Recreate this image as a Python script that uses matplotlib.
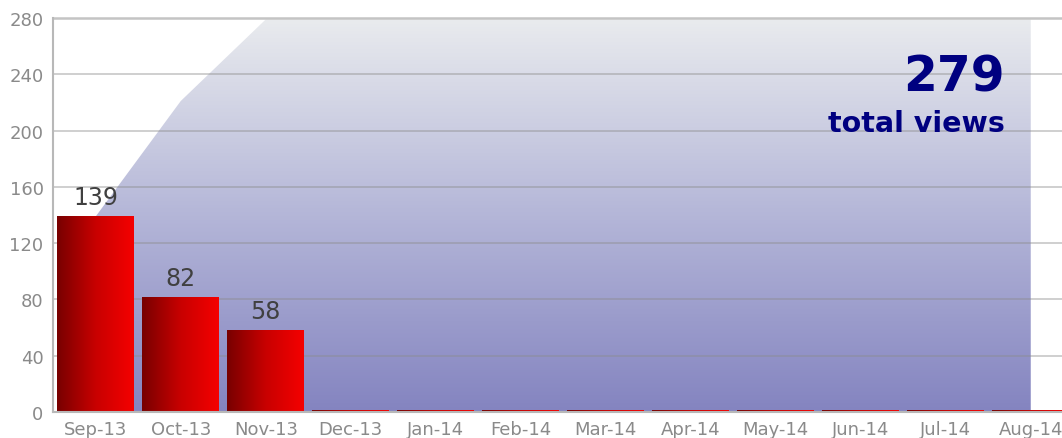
import numpy as np
import matplotlib
matplotlib.use("Agg")
import matplotlib.pyplot as plt
from matplotlib.colors import LinearSegmentedColormap
from matplotlib.patches import Rectangle, Polygon

months = ["Sep-13", "Oct-13", "Nov-13", "Dec-13", "Jan-14", "Feb-14",
          "Mar-14", "Apr-14", "May-14", "Jun-14", "Jul-14", "Aug-14"]
views = [139, 82, 58, 0, 0, 0, 0, 0, 0, 0, 0, 0]
yticks = [0, 40, 80, 120, 160, 200, 240, 280]
total_label = "total views"

cumulative = np.cumsum(views)
total = int(cumulative[-1])

W, H = 1062, 439
fig = plt.figure(figsize=(W / 100, H / 100), dpi=100)
ax = fig.add_axes([53.25 / W, 26 / H, 1020 / W, 394 / H])
ax.set_xlim(-0.5, len(months) - 0.5)
ax.set_ylim(0, 280)

# cumulative area with vertical gradient
x = np.arange(len(months))
verts = [(x[0], 0)] + list(zip(x, cumulative)) + [(x[-1], 0)]
poly = Polygon(verts, closed=True, facecolor="none", edgecolor="none")
ax.add_patch(poly)
area_cmap = LinearSegmentedColormap.from_list(
    "area", ["#8484c0", "#b4b6d8", "#e9ebee"])
grad = np.linspace(0, 1, 256).reshape(-1, 1)
im = ax.imshow(grad, extent=(x[0], x[-1], 0, 279), origin="lower",
               aspect="auto", cmap=area_cmap, zorder=1)
im.set_clip_path(poly)

# grid (semi-transparent so it darkens over the area)
for t in yticks[1:-1]:
    ax.axhline(t, color="#8c8c8c", alpha=0.45, lw=1.3, zorder=2)

# bars with horizontal gradient
bar_cmap = LinearSegmentedColormap.from_list("bar", ["#780000", "#c80000", "#f50000"])
hgrad = np.linspace(0, 1, 256).reshape(1, -1)
bw = 0.905
for i, v in enumerate(views):
    h = v if v > 0 else 1.3
    rect = Rectangle((i - bw / 2, 0), bw, h, facecolor="none", edgecolor="none")
    ax.add_patch(rect)
    bi = ax.imshow(hgrad, extent=(i - bw / 2, i + bw / 2, 0, h), origin="lower",
                   aspect="auto", cmap=bar_cmap, zorder=3)
    bi.set_clip_path(rect)
    if v > 0:
        ax.text(i, v + 5, str(v), ha="center", va="bottom", fontsize=17,
                color="#404040", zorder=4)

ax.set_xlim(-0.5, len(months) - 0.5)
ax.set_ylim(0, 280)

ax.set_xticks(x)
ax.set_xticklabels(months, fontsize=13, color="#8a8a8a")
ax.set_yticks(yticks)
ax.set_yticklabels([str(t) for t in yticks], fontsize=13, color="#8a8a8a")
ax.tick_params(length=0, pad=7)
ax.tick_params(axis="x", pad=6)
for s in ["top", "right"]:
    ax.spines[s].set_visible(False)
for s in ["left", "bottom"]:
    ax.spines[s].set_color("#b8b8b8")
    ax.spines[s].set_linewidth(1.5)
    ax.spines[s].set_zorder(5)
ax.axhline(280, color="#c4c4c4", lw=1.8, zorder=2, clip_on=False)

fig.text(1005 / W, 1 - 78 / H, str(total), ha="right", va="center",
         fontsize=35, fontweight="bold", color="#000080")
fig.text(1005 / W, 1 - 124 / H, total_label, ha="right", va="center",
         fontsize=20.5, fontweight="bold", color="#000080")

fig.savefig("out.png", dpi=100)
